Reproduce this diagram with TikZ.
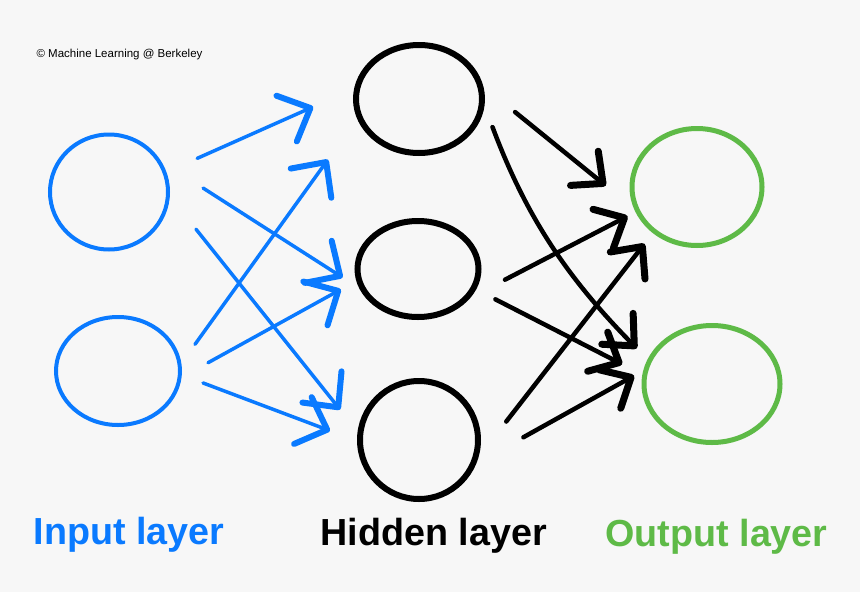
\documentclass[tikz,border=0pt]{standalone}
\usepackage{fontspec}
\setmainfont{Liberation Sans}
\usetikzlibrary{shapes.geometric,arrows.meta}
\definecolor{inblue}{RGB}{10,122,255}
\definecolor{outgreen}{RGB}{94,186,71}
\definecolor{paper}{RGB}{247,247,247}

\begin{document}
\begin{tikzpicture}[x=1pt, y=-1pt,
        unit/.style  = {ellipse, draw, inner sep=0pt, outer sep=0pt},
        layer/.style = {anchor=base west, font=\fontsize{37.7}{40}\selectfont\bfseries},
        wb/.style    = {inblue, line width=3.5pt, line cap=round,
                        -{Straight Barb[round, length=26pt, width=50pt, line width=6pt]}},
        wk/.style    = {black, line width=4.5pt, line cap=round,
                        -{Straight Barb[round, length=24pt, width=44pt, line width=7pt]}}
    ]
    \fill[paper] (0,0) rectangle (860,592);
    \useasboundingbox (0,0) rectangle (860,592);

    \node[anchor=base west, font=\fontsize{11.5}{13}\selectfont] (cr) at (33,57) {© Machine Learning @ Berkeley};

    % input layer
    \node[unit, inblue, line width=4pt, minimum width=118pt, minimum height=115pt] (i1) at (109,192) {};
    \node[unit, inblue, line width=4pt, minimum width=124pt, minimum height=108pt] (i2) at (118,371) {};
    % hidden layer
    \node[unit, line width=6pt, minimum width=126pt, minimum height=108pt] (h1) at (419,99) {};
    \node[unit, line width=6pt, minimum width=121pt, minimum height=96pt]  (h2) at (418,269) {};
    \node[unit, line width=6pt, minimum width=118pt, minimum height=118pt] (h3) at (419,440) {};
    % output layer
    \node[unit, outgreen, line width=5pt, minimum width=130pt, minimum height=117pt] (o1) at (697,187) {};
    \node[unit, outgreen, line width=5pt, minimum width=136pt, minimum height=117pt] (o2) at (712,384) {};

    % input -> hidden
    \draw[wb, shorten <=35.6pt, shorten >=48.6pt] (i1.19.6) -- (h1.169.4);
    \draw[wb, shorten <=54.9pt, shorten >=26.2pt] (i1.35.2) -- (h2.203.5);
    \draw[wb, shorten <=44.9pt, shorten >=32.3pt] (i1.-2.8)  -- (h3.175.3);
    \draw[wb, shorten <=26.2pt, shorten >=53.6pt] (i2.5.4)   -- (h1.196.4);
    \draw[wb, shorten <=32.7pt, shorten >=20.7pt] (i2.-7.1)  -- (h2.190.7);
    \draw[wb, shorten <=24.7pt, shorten >=32.1pt] (i2.-3.1)  -- (h3.182.3);

    % hidden -> output
    \draw[wk, shorten <=46.3pt, shorten >=41.8pt] (h1.15.1)  -- (o1.203.4);
    \draw[wk, shorten <=30pt,   shorten >=18pt]   (h1.0) to[bend right=12] (o2.160);
    \draw[wk, shorten <=48.6pt, shorten >=11.4pt] (h2.-37.2) -- (o1.202.8);
    \draw[wk, shorten <=24.6pt, shorten >=25.3pt] (h2.-19.8) -- (o2.173.7);
    \draw[wk, shorten <=55pt,   shorten >=16pt]   (h3.-25)   -- (o1.226);
    \draw[wk, shorten <=58.8pt, shorten >=14pt]   (h3.-26.9) -- (o2.167.3);

    \node[layer, inblue]   (li) at (30,544)  {Input layer};
    \node[layer]           (lh) at (317,545) {Hidden layer};
    \node[layer, outgreen] (lo) at (602,546) {Output layer};
\end{tikzpicture}
\end{document}
